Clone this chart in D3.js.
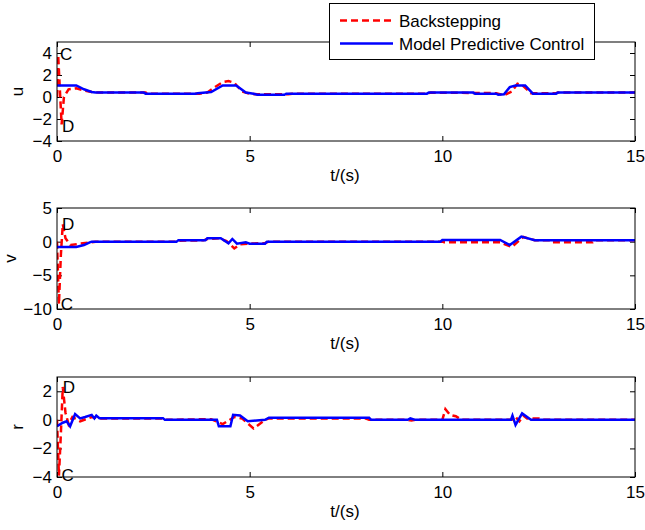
<!DOCTYPE html>
<html><head><meta charset="utf-8">
<script src="https://cdn.jsdelivr.net/npm/d3@7"></script>
<style>
body{margin:0;background:#fff;}
svg text{font-family:"Liberation Sans",Arial,Helvetica,sans-serif;font-size:17px;fill:#000;}
</style></head><body>
<svg id="c" width="645" height="530"></svg>
<script>
// ---- data ----
const xTicks = [0, 5, 10, 15];
const uTicks = [-4, -2, 0, 2, 4];
const vTicks = [-10, -5, 0, 5];
const rTicks = [-4, -2, 0, 2];
const seriesNames = ["Backstepping", "Model Predictive Control"];

const uBack = [[0,0],[0.03,3.8],[0.07,1],[0.12,-2.5],[0.18,0],[0.3,0.7],[0.5,0.8],[0.7,0.6],[0.9,0.45],[1.1,0.4],[2.3,0.4],[2.35,0.3],[3.7,0.3],[3.9,0.4],[4.1,0.9],[4.3,1.35],[4.45,1.45],[4.6,1.3],[4.8,0.5],[5.0,0.3],[5.2,0.25],[6.0,0.25],[6.1,0.3],[9.6,0.3],[9.7,0.4],[11.4,0.35],[11.6,0.15],[11.8,0.5],[11.95,1.2],[12.1,1.0],[12.3,0.35],[12.95,0.35],[13.0,0.4],[15,0.4]];
const uMPC = [[0,1.05],[0.5,1.05],[0.7,0.7],[0.9,0.45],[1.0,0.4],[2.25,0.4],[2.3,0.3],[3.6,0.3],[3.65,0.35],[4.0,0.45],[4.3,1.05],[4.65,1.05],[4.9,0.4],[5.1,0.3],[5.2,0.2],[5.9,0.2],[5.95,0.3],[9.6,0.3],[9.65,0.4],[10.8,0.4],[10.85,0.3],[11.4,0.3],[11.45,0.2],[11.6,0.25],[11.75,0.9],[11.9,1.05],[12.15,1.05],[12.35,0.3],[12.95,0.3],[13.0,0.4],[15,0.4]];

const vBack = [[0,0],[0.05,-9.3],[0.1,-2],[0.15,2.6],[0.22,0.5],[0.35,-0.5],[0.6,-0.3],[0.9,-0.1],[1.0,0],[3.1,0],[3.15,0.15],[3.8,0.2],[3.9,0.4],[4.2,0.5],[4.4,0.1],[4.6,-1.0],[4.75,-0.4],[5.0,-0.3],[5.4,-0.2],[5.5,0],[10.0,0],[10.05,-0.1],[11.5,-0.1],[11.8,-0.8],[12.1,0.7],[12.4,0.2],[12.8,0.2],[12.85,-0.1],[13.9,-0.1],[13.95,0.2],[15,0.2]];
const vMPC = [[0,-0.8],[0.5,-0.8],[0.7,-0.5],[0.85,-0.1],[0.9,0],[3.1,0],[3.15,0.2],[3.85,0.2],[3.9,0.5],[4.25,0.5],[4.45,-0.25],[4.55,0.4],[4.67,-0.3],[4.9,-0.1],[5.0,-0.3],[5.4,-0.3],[5.45,0],[9.95,0],[10.0,0.25],[11.5,0.25],[11.75,-0.5],[12.05,0.75],[12.4,0.2],[15,0.2]];

const rBack = [[0,0],[0.05,-3.9],[0.1,-1],[0.15,2.3],[0.22,0.5],[0.3,-0.3],[0.4,0.2],[0.6,-0.1],[0.9,0.2],[1.1,0.1],[2.8,0.1],[2.85,0],[4.0,0.05],[4.3,-0.3],[4.6,0.2],[4.8,0.1],[5.1,-0.6],[5.4,0],[5.5,0.1],[8.0,0.1],[8.1,0],[9.1,0],[9.2,-0.05],[9.3,0],[10.0,0],[10.08,0.75],[10.2,0.35],[10.35,0.25],[10.5,0],[11.8,0],[11.9,0.2],[12.0,-0.1],[12.1,0.3],[12.2,0.1],[12.5,0.1],[12.6,0],[15,0]];
const rMPC = [[0,-0.45],[0.15,-0.2],[0.25,-0.1],[0.34,-0.45],[0.47,0.4],[0.6,0.1],[0.73,0.2],[0.9,0.35],[0.97,0.1],[1.02,0.3],[1.1,0.12],[2.75,0.12],[2.8,0],[4.15,0],[4.2,-0.45],[4.5,-0.45],[4.57,0.35],[4.75,0.3],[4.95,-0.1],[5.4,0],[5.5,0.15],[8.1,0.15],[8.15,0],[9.1,0],[9.17,0.1],[9.3,0],[11.78,0],[11.82,0.3],[11.9,-0.35],[12.07,0.45],[12.3,0],[15,0]];

const uNotes = [["C",0.08,3.9],["D",0.13,-2.65]];
const vNotes = [["D",0.13,2.6],["C",0.1,-9.3]];
const rNotes = [["D",0.15,2.3],["C",0.12,-3.85]];

// ---- drawing ----
const svg = d3.select("#c");
const L = 57, R = 635;
const x = d3.scaleLinear().domain([0,15]).range([L,R]);
const fmt = d3.format("d");

const panels = [
  {label:"u", lx:23, top:42, bot:141, dom:[-4,5], ticks:uTicks, back:uBack, mpc:uMPC, notes:uNotes},
  {label:"v", lx:16, top:208, bot:309, dom:[-10,5], ticks:vTicks, back:vBack, mpc:vMPC, notes:vNotes},
  {label:"r", lx:23, top:377, bot:477, dom:[-4,3], ticks:rTicks, back:rBack, mpc:rMPC, notes:rNotes}
];

panels.forEach((p,i)=>{
  const y = d3.scaleLinear().domain(p.dom).range([p.bot,p.top]);
  const g = svg.append("g");
  const cid = "clip"+i;
  svg.append("clipPath").attr("id",cid).append("rect")
    .attr("x",L).attr("y",p.top).attr("width",R-L).attr("height",p.bot-p.top);

  const ax = [
    d3.axisBottom(x).tickValues(xTicks).tickSize(-5).tickPadding(9).tickFormat(fmt),
    d3.axisTop(x).tickValues(xTicks).tickSize(-5).tickFormat(""),
    d3.axisLeft(y).tickValues(p.ticks).tickSize(-5).tickPadding(5).tickFormat(fmt),
    d3.axisRight(y).tickValues(p.ticks).tickSize(-5).tickFormat("")
  ];
  const tr = [`translate(0,${p.bot})`,`translate(0,${p.top})`,`translate(${L},0)`,`translate(${R},0)`];
  ax.forEach((a,k)=>{
    const ga = g.append("g").attr("transform",tr[k]).call(a);
    ga.select(".domain").remove();
    ga.selectAll(".tick line").attr("stroke","#000");
    ga.selectAll("text").style("font-size","17px").attr("fill","#000");
  });

  const line = d3.line().x(d=>x(d[0])).y(d=>y(d[1]));
  g.append("path").datum(p.back).attr("d",line).attr("fill","none")
    .attr("stroke","#ff0000").attr("stroke-width",2.5).attr("stroke-dasharray","7,4")
    .attr("clip-path",`url(#${cid})`);
  g.append("path").datum(p.mpc).attr("d",line).attr("fill","none")
    .attr("stroke","#0000ff").attr("stroke-width",2.5)
    .attr("clip-path",`url(#${cid})`);

  g.append("rect").attr("x",L).attr("y",p.top).attr("width",R-L).attr("height",p.bot-p.top)
    .attr("fill","none").attr("stroke","#000").attr("stroke-width",1);

  p.notes.forEach(n=>{
    g.append("text").attr("x",x(n[1])).attr("y",y(n[2])).attr("dy","0.36em").text(n[0]);
  });

  g.append("text").attr("x",(L+R)/2 - 1).attr("y",p.bot+40).attr("text-anchor","middle").text("t/(s)");
  g.append("text").attr("transform",`translate(${p.lx},${(p.top+p.bot)/2}) rotate(-90)`)
    .attr("text-anchor","middle").text(p.label);
});

// legend
const lg = svg.append("g");
lg.append("rect").attr("x",329.5).attr("y",3.5).attr("width",265).attr("height",56)
  .attr("fill","#fff").attr("stroke","#000").attr("stroke-width",1);
const legY = [20.5, 43.5];
seriesNames.forEach((s,k)=>{
  lg.append("line").attr("x1",340).attr("x2",393).attr("y1",legY[k]).attr("y2",legY[k])
    .attr("stroke",k===0?"#ff0000":"#0000ff").attr("stroke-width",2.5)
    .attr("stroke-dasharray",k===0?"7,4":null);
  lg.append("text").attr("x",399).attr("y",legY[k]).attr("dy","0.36em").text(s);
});
</script>
</body></html>
